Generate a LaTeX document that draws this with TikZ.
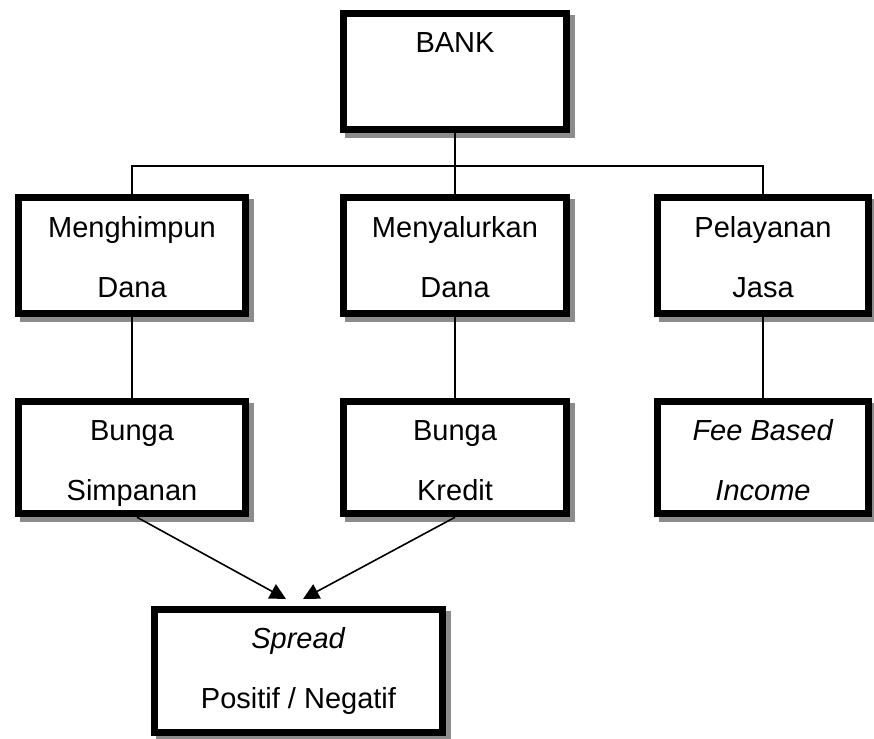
\documentclass[tikz,border=0pt]{standalone}
\usepackage{fontspec}
\setmainfont{Liberation Sans}
\usepackage{tikz}
\usetikzlibrary{arrows.meta}
\usetikzlibrary{shadows}
\usetikzlibrary{positioning}
\definecolor{shadowgray}{gray}{0.55}
\begin{document}
\begin{tikzpicture}[x=1pt, y=-1pt,
  box/.style={rectangle, draw=black, fill=white, line width=7.5pt, align=center,
    inner sep=0pt, font=\fontsize{29}{60}\selectfont, text depth=0pt,
    general shadow={fill=shadowgray, draw=shadowgray, line width=7.5pt,
      shadow xshift=5pt, shadow yshift=-5pt}},
  link/.style={line width=1.6pt, draw=black},
  arrow/.style={link, -{Triangle[length=16pt, width=16pt]}}]
 \useasboundingbox (0, 0) rectangle (874, 738);
 % top and first row
 \node [box, minimum width=223pt, minimum height=116pt, text height=83pt] (bank) at (455, 71.5) {BANK\\ \mbox{}};
 \node [box, minimum width=227pt, minimum height=116pt, text height=83pt] (dana1) at (132, 255.5) {Menghimpun\\Dana};
 \node [box, minimum width=223pt, minimum height=116pt, text height=83pt] (dana2) at (455, 255.5) {Menyalurkan\\Dana};
 \node [box, minimum width=211pt, minimum height=116pt, text height=83pt] (jasa) at (763, 255.5) {Pelayanan\\Jasa};
 % second row
 \node [box, minimum width=227pt, minimum height=112pt, text height=85pt] (simpanan) at (132, 457.5) {Bunga\\Simpanan};
 \node [box, minimum width=223pt, minimum height=112pt, text height=85pt] (kredit) at (455, 457.5) {Bunga\\Kredit};
 \node [box, minimum width=211pt, minimum height=112pt, text height=85pt] (fee) at (763, 457.5) {\textit{Fee Based}\\\textit{Income}};
 \node [box, minimum width=288pt, minimum height=123pt, text height=74pt] (spread) at (298.5, 671) {\textit{Spread}\\Positif / Negatif};
 \coordinate (bus) at (455, 166);
 \coordinate (tipL) at (286, 599);
 \coordinate (tipR) at (303, 599);
 \draw [link] (bank.south) -- (bus);
 \draw [link] (dana1.north) |- (bus) -| (jasa.north);
 \draw [link] (bus) -- (dana2.north);
 \draw [link] (dana1) -- (simpanan);
 \draw [link] (dana2) -- (kredit);
 \draw [link] (jasa) -- (fee);
 \draw [arrow] ([xshift=5pt]simpanan.south) -- (tipL);
 \draw [arrow] (kredit.south) -- (tipR);
\end{tikzpicture}
\end{document}
